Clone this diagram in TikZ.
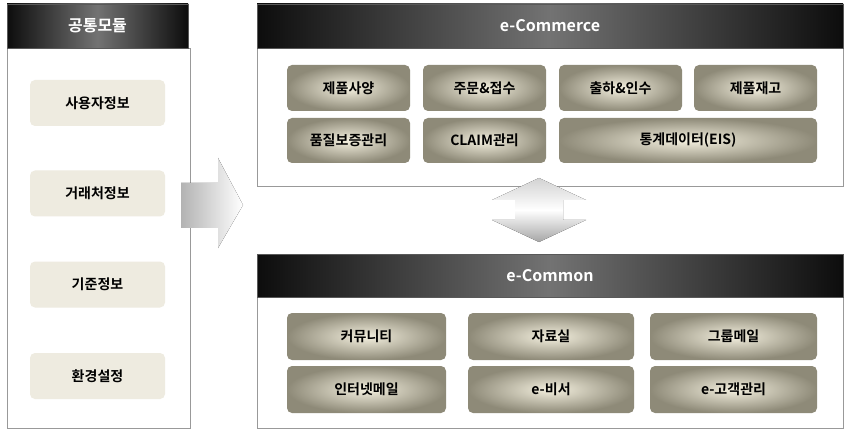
\documentclass[tikz,border=0pt]{standalone}
\usepackage{fontspec}
\setmainfont{Noto Sans CJK KR}[BoldFont={Noto Sans CJK KR Bold}]
\definecolor{cin}{HTML}{F4F0DF}
\definecolor{cout}{HTML}{8E8A78}
\definecolor{plain}{HTML}{EEEBE0}
\tikzset{
 hdr/.style={draw=gray!70!black,left color=black!95,right color=black!95,middle color=black!55,text=white,font=\bfseries\fontsize{16}{16}\selectfont},
 panel/.style={draw=gray!80,fill=white},
 gbox/.style={rounded corners=5pt,inner color=cin,outer color=cout,font=\bfseries\fontsize{14}{14}\selectfont},
 pbox/.style={rounded corners=5pt,fill=plain,font=\bfseries\fontsize{14}{14}\selectfont},
}
\begin{document}
\begin{tikzpicture}[x=1pt,y=-1pt]
\useasboundingbox (0,0) rectangle (853,430);
\draw[panel] (7,48) rectangle (190,428);
\node[hdr,minimum width=181,minimum height=44] (lh) at (97.5,26) {공통모듈};
\foreach \n/\y/\t in {a/103/사용자정보,b/193.5/거래처정보,c/284.5/기준정보,d/376/환경설정}
  \node[pbox,minimum width=135,minimum height=46] (\n) at (97.5,\y) {\t};
\fill[left color=gray!60,right color=white] (181,183) -- (218,183) -- (218,158) -- (243,205) -- (218,248) -- (218,228) -- (181,228) -- cycle;
\draw[panel] (257,48) rectangle (843,186);
\node[hdr,minimum width=586,minimum height=44] (th) at (550,26) {e-Commerce};
\node[gbox,minimum width=123,minimum height=46] (t1) at (348.5,88) {제품사양};
\node[gbox,minimum width=123,minimum height=46] (t2) at (484.5,88) {주문\&접수};
\node[gbox,minimum width=123,minimum height=46] (t3) at (620.5,88) {출하\&인수};
\node[gbox,minimum width=123,minimum height=46] (t4) at (755.5,88) {제품재고};
\node[gbox,minimum width=123,minimum height=45] (t5) at (348.5,140.5) {품질보증관리};
\node[gbox,minimum width=123,minimum height=45] (t6) at (484.5,140.5) {CLAIM관리};
\node[gbox,minimum width=258,minimum height=45] (t7) at (688,140.5) {통계데이터(EIS)};
\fill[top color=gray!35,bottom color=gray!70,middle color=white] (539,178) -- (586,200) -- (563,200) -- (563,220) -- (586,220) -- (539,242) -- (492,220) -- (515,220) -- (515,200) -- (492,200) -- cycle;
\draw[panel] (257,297) rectangle (843,428);
\node[hdr,minimum width=586,minimum height=43] (bh) at (550,275.5) {e-Common};
\node[gbox,minimum width=159,minimum height=47] (b1) at (366.5,336.5) {커뮤니티};
\node[gbox,minimum width=166,minimum height=47] (b2) at (551,336.5) {자료실};
\node[gbox,minimum width=167,minimum height=47] (b3) at (733.5,336.5) {그룹메일};
\node[gbox,minimum width=159,minimum height=47] (b4) at (366.5,389.5) {인터넷메일};
\node[gbox,minimum width=166,minimum height=47] (b5) at (551,389.5) {e-비서};
\node[gbox,minimum width=167,minimum height=47] (b6) at (733.5,389.5) {e-고객관리};
\end{tikzpicture}
\end{document}
